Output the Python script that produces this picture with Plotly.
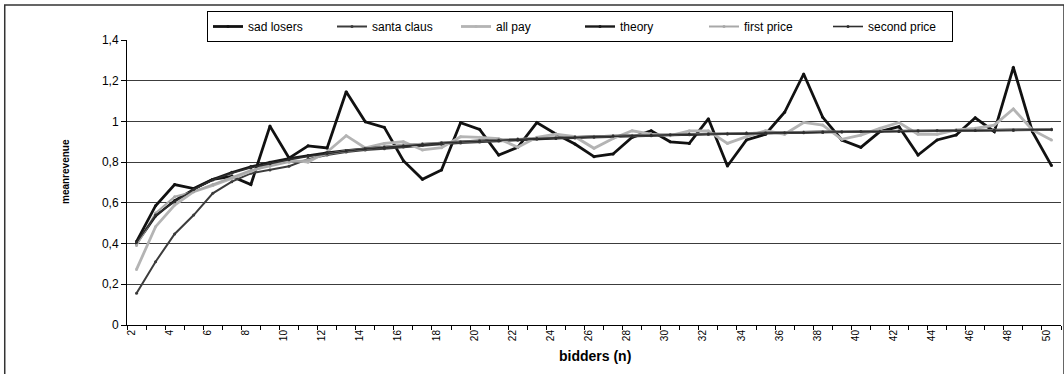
import plotly.graph_objects as go

# bidders per auction
bidders = list(range(2, 51))

sad_losers = [0.41, 0.586, 0.69, 0.67, 0.715, 0.73, 0.69, 0.977, 0.82, 0.88,
              0.87, 1.146, 0.998, 0.971, 0.807, 0.716, 0.761, 0.994, 0.961, 0.835,
              0.873, 0.994, 0.938, 0.889, 0.827, 0.84, 0.922, 0.954, 0.90, 0.892,
              1.013, 0.781, 0.909, 0.937, 1.045, 1.233, 1.02, 0.909, 0.873, 0.95,
              0.974, 0.835, 0.909, 0.933, 1.018, 0.95, 1.266, 0.95, 0.783]

santa_claus = [0.156, 0.311, 0.447, 0.54, 0.647, 0.704, 0.745, 0.761, 0.78, 0.815,
               0.835, 0.85, 0.86, 0.866, 0.874, 0.882, 0.888, 0.894, 0.899, 0.904,
               0.908, 0.912, 0.916, 0.919, 0.922, 0.925, 0.928, 0.930, 0.932, 0.935,
               0.937, 0.938, 0.940, 0.942, 0.943, 0.945, 0.946, 0.948, 0.949, 0.950,
               0.951, 0.952, 0.954, 0.955, 0.956, 0.956, 0.957, 0.958, 0.959]

all_pay = [0.273, 0.483, 0.589, 0.655, 0.685, 0.72, 0.755, 0.79, 0.81, 0.80,
           0.85, 0.93, 0.87, 0.892, 0.90, 0.86, 0.871, 0.925, 0.922, 0.915,
           0.873, 0.922, 0.938, 0.925, 0.868, 0.916, 0.954, 0.938, 0.93, 0.954,
           0.954, 0.892, 0.925, 0.954, 0.937, 0.995, 0.982, 0.912, 0.933, 0.966,
           0.995, 0.937, 0.937, 0.958, 0.966, 0.982, 1.061, 0.958, 0.909]

theory = [0.40, 0.535, 0.612, 0.667, 0.715, 0.75, 0.778, 0.80, 0.818, 0.833,
          0.846, 0.857, 0.867, 0.875, 0.882, 0.889, 0.895, 0.90, 0.905, 0.909,
          0.913, 0.917, 0.92, 0.923, 0.926, 0.929, 0.931, 0.933, 0.935, 0.938,
          0.939, 0.941, 0.943, 0.944, 0.946, 0.947, 0.949, 0.95, 0.951, 0.952,
          0.953, 0.955, 0.956, 0.957, 0.957, 0.958, 0.959, 0.96, 0.961]

first_price = [0.39, 0.55, 0.63, 0.655, 0.69, 0.725, 0.76, 0.78, 0.80, 0.81,
               0.84, 0.855, 0.865, 0.876, 0.885, 0.89, 0.895, 0.90, 0.905, 0.91,
               0.915, 0.918, 0.921, 0.924, 0.927, 0.93, 0.932, 0.934, 0.936, 0.938,
               0.94, 0.942, 0.943, 0.945, 0.946, 0.948, 0.949, 0.95, 0.951, 0.953,
               0.954, 0.955, 0.956, 0.957, 0.958, 0.959, 0.96, 0.96, 0.961]

second_price = [0.405, 0.54, 0.605, 0.665, 0.712, 0.745, 0.772, 0.792, 0.812, 0.828,
                0.843, 0.855, 0.865, 0.873, 0.881, 0.888, 0.894, 0.899, 0.904, 0.908,
                0.912, 0.916, 0.919, 0.922, 0.925, 0.928, 0.930, 0.932, 0.934, 0.937,
                0.938, 0.940, 0.942, 0.943, 0.945, 0.946, 0.948, 0.949, 0.950, 0.951,
                0.952, 0.954, 0.955, 0.956, 0.956, 0.957, 0.958, 0.959, 0.960]

y_ticks = [0, 0.2, 0.4, 0.6, 0.8, 1.0, 1.2, 1.4]
y_tick_labels = ["0", "0,2", "0,4", "0,6", "0,8", "1", "1,2", "1,4"]
x_tick_labels = [str(n) for n in range(2, 51, 2)]

FONT = "Liberation Sans, Arial, sans-serif"

series = [
    ("sad losers", sad_losers, "#111111", 2.8),
    ("santa claus", santa_claus, "#3c3c3c", 2.0),
    ("all pay", all_pay, "#b4b4b4", 2.8),
    ("theory", theory, "#1a1a1a", 2.4),
    ("first price", first_price, "#a8a8a8", 2.0),
    ("second price", second_price, "#2e2e2e", 1.6),
]

fig = go.Figure()
for name, vals, color, width in series:
    fig.add_trace(go.Scatter(
        x=bidders, y=vals, name=name, mode="lines+markers",
        line=dict(color=color, width=width),
        marker=dict(color=color, size=3, symbol="circle"),
    ))

fig.update_layout(
    width=1064, height=374,
    margin=dict(l=127, r=3, t=40, b=49),
    paper_bgcolor="white", plot_bgcolor="white",
    font=dict(family=FONT, color="black", size=11),
    showlegend=True,
    legend=dict(
        orientation="h", x=(207 - 127) / 934, xanchor="left",
        y=(325 - 11) / 285, yanchor="top",
        bordercolor="black", borderwidth=1, bgcolor="white",
        font=dict(family=FONT, size=12), itemwidth=30,
        entrywidth=79, entrywidthmode="pixels",
        tracegroupgap=0,
    ),
    xaxis=dict(
        range=[1.5, 50.5], showgrid=False, zeroline=False,
        showline=True, linecolor="black", linewidth=1,
        tickmode="array",
        tickvals=[n - 0.27 for n in range(2, 51, 2)],
        ticktext=x_tick_labels, tickangle=-90,
        ticks="", tickfont=dict(family=FONT, size=10),
        minor=dict(tickvals=[n + 0.5 for n in range(1, 51)], ticks="outside",
                   ticklen=4, tickcolor="black", tickwidth=1, showgrid=False),
    ),
    yaxis=dict(
        range=[0, 1.4], tickmode="array", tickvals=y_ticks, ticktext=y_tick_labels,
        showgrid=True, gridcolor="#3c3c3c", gridwidth=1, zeroline=False,
        showline=True, linecolor="black", linewidth=1,
        ticks="outside", ticklen=5, tickcolor="black",
        tickfont=dict(family=FONT, size=12),
    ),
    shapes=[
        dict(type="rect", xref="paper", yref="paper",
             x0=(5 - 127) / 932, x1=(1062 - 127) / 932,
             y0=(325 - 390) / 285, y1=(325 - 5) / 285,
             line=dict(color="#333333", width=1.5), layer="below"),
    ],
    annotations=[
        dict(text="<b>bidders (n)</b>", xref="paper", yref="paper",
             x=(595 - 127) / 934, y=(325 - 356) / 285, showarrow=False,
             xanchor="center", yanchor="middle",
             font=dict(family=FONT, size=14)),
        dict(text="<b>meanrevenue</b>", xref="paper", yref="paper",
             x=(65 - 127) / 934, y=(325 - 172) / 285, showarrow=False,
             textangle=-90, xanchor="center", yanchor="middle",
             font=dict(family=FONT, size=10)),
    ],
)

fig.write_html("out.html")
